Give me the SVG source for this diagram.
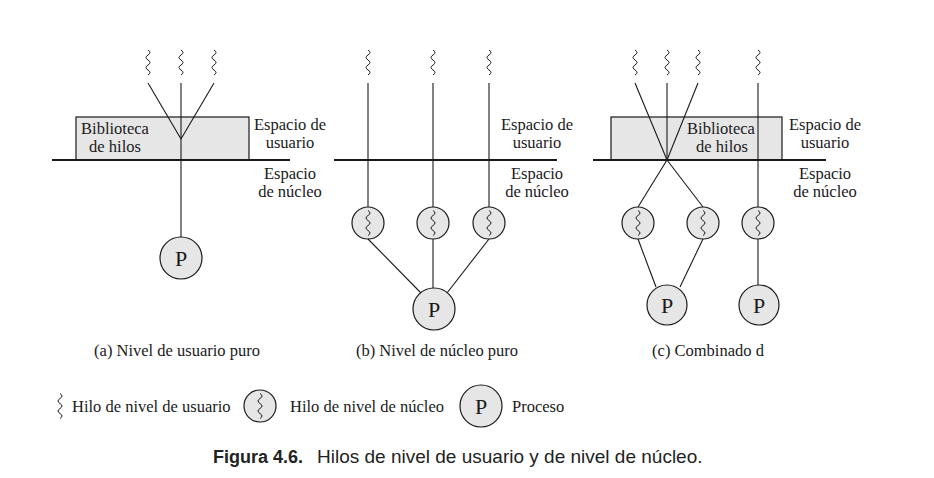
<svg xmlns="http://www.w3.org/2000/svg" width="934" height="478" viewBox="0 0 934 478">
<style>
.t{font-family:"Liberation Serif","Times New Roman",serif;font-size:16.5px;fill:#1a1a1a}
.c{text-anchor:middle}
.p{font-family:"Liberation Serif","Times New Roman",serif;font-size:22px;fill:#1a1a1a;text-anchor:middle}
.ln{stroke:#1a1a1a;stroke-width:1.1;fill:none}
.base{stroke:#1a1a1a;stroke-width:2.2;fill:none}
.nd{fill:#e6e6e6;stroke:#1a1a1a;stroke-width:1.2}
.sq{fill:none;stroke:#1a1a1a;stroke-width:1}
</style>
<defs>
<path id="sq" class="sq" d="M0,-12.5 q4,2.5 0,5 t0,5 t0,5 t0,5 t0,5"/>
</defs>
<rect width="934" height="478" fill="#fff"/>

<!-- Panel (a) -->
<g id="a-lib">
<rect class="nd" x="76" y="117" width="173" height="43"/>
<text class="t c" x="115" y="134">Biblioteca</text>
<text class="t c" x="115" y="152">de hilos</text>
</g>
<g id="a-ut1"><use href="#sq" x="148" y="62.5"/></g>
<g id="a-ut2"><use href="#sq" x="181" y="62.5"/></g>
<g id="a-ut3"><use href="#sq" x="214" y="62.5"/></g>
<g id="a-p"><circle class="nd" cx="181" cy="258" r="21"/><text class="p" x="181" y="265.5">P</text></g>
<g id="a-labels">
<text class="t c" x="290" y="130">Espacio de</text>
<text class="t c" x="290" y="148">usuario</text>
<text class="t c" x="290" y="179">Espacio</text>
<text class="t c" x="290" y="197">de núcleo</text>
<text class="t c" x="177" y="356">(a) Nivel de usuario puro</text>
</g>

<!-- Panel (b) -->
<g id="b-ut1"><use href="#sq" x="368" y="62.5"/></g>
<g id="b-ut2"><use href="#sq" x="433" y="62.5"/></g>
<g id="b-ut3"><use href="#sq" x="489" y="62.5"/></g>
<g id="b-k1"><circle class="nd" cx="368" cy="223" r="16"/><use href="#sq" x="368" y="223"/></g>
<g id="b-k2"><circle class="nd" cx="433" cy="223" r="16"/><use href="#sq" x="433" y="223"/></g>
<g id="b-k3"><circle class="nd" cx="489" cy="223" r="16"/><use href="#sq" x="489" y="223"/></g>
<g id="b-p"><circle class="nd" cx="434" cy="309" r="21"/><text class="p" x="434" y="316.5">P</text></g>
<g id="b-labels">
<text class="t c" x="537" y="130">Espacio de</text>
<text class="t c" x="537" y="148">usuario</text>
<text class="t c" x="537" y="179">Espacio</text>
<text class="t c" x="537" y="197">de núcleo</text>
<text class="t c" x="437" y="356">(b) Nivel de núcleo puro</text>
</g>

<!-- Panel (c) -->
<g id="c-lib">
<rect class="nd" x="611" y="117" width="171" height="43"/>
<text class="t c" x="721" y="134">Biblioteca</text>
<text class="t c" x="722" y="152">de hilos</text>
</g>
<g id="c-ut1"><use href="#sq" x="635" y="62.5"/></g>
<g id="c-ut2"><use href="#sq" x="667" y="62.5"/></g>
<g id="c-ut3"><use href="#sq" x="698" y="62.5"/></g>
<g id="c-ut4"><use href="#sq" x="758" y="62.5"/></g>
<g id="c-k1"><circle class="nd" cx="638" cy="223" r="16"/><use href="#sq" x="638" y="223"/></g>
<g id="c-k2"><circle class="nd" cx="703" cy="223" r="16"/><use href="#sq" x="703" y="223"/></g>
<g id="c-k3"><circle class="nd" cx="758" cy="223" r="16"/><use href="#sq" x="758" y="223"/></g>
<g id="c-p1"><circle class="nd" cx="667" cy="305" r="20"/><text class="p" x="667" y="312.5">P</text></g>
<g id="c-p2"><circle class="nd" cx="759" cy="305" r="20"/><text class="p" x="759" y="312.5">P</text></g>
<g id="c-labels">
<text class="t c" x="825" y="130">Espacio de</text>
<text class="t c" x="825" y="148">usuario</text>
<text class="t c" x="825" y="179">Espacio</text>
<text class="t c" x="825" y="197">de núcleo</text>
<text class="t c" x="708" y="356">(c) Combinado d</text>
</g>

<!-- Connectors -->
<g id="connectors">
<line class="base" x1="52" y1="160" x2="290" y2="160"/>
<line class="base" x1="334" y1="160" x2="557" y2="160"/>
<line class="base" x1="593" y1="160" x2="826" y2="160"/>
<!-- a -->
<line class="ln" x1="148" y1="83" x2="181" y2="139"/>
<line class="ln" x1="214" y1="83" x2="181" y2="139"/>
<line class="ln" x1="181" y1="83" x2="181" y2="237"/>
<!-- b -->
<line class="ln" x1="368" y1="83" x2="368" y2="207"/>
<line class="ln" x1="433" y1="83" x2="433" y2="207"/>
<line class="ln" x1="489" y1="83" x2="489" y2="207"/>
<line class="ln" x1="368" y1="239" x2="421" y2="293"/>
<line class="ln" x1="433" y1="239" x2="433" y2="288"/>
<line class="ln" x1="489" y1="239" x2="447" y2="293"/>
<!-- c -->
<line class="ln" x1="635" y1="83" x2="667" y2="160"/>
<line class="ln" x1="667" y1="83" x2="667" y2="160"/>
<line class="ln" x1="698" y1="83" x2="667" y2="160"/>
<line class="ln" x1="667" y1="160" x2="638" y2="207"/>
<line class="ln" x1="667" y1="160" x2="703" y2="207"/>
<line class="ln" x1="758" y1="83" x2="758" y2="207"/>
<line class="ln" x1="638" y1="239" x2="656" y2="287"/>
<line class="ln" x1="703" y1="239" x2="680" y2="287"/>
<line class="ln" x1="758" y1="239" x2="758" y2="285"/>
</g>

<!-- Legend -->
<g id="legend-ut"><use href="#sq" x="60" y="406"/><text class="t" x="72" y="412">Hilo de nivel de usuario</text></g>
<g id="legend-kt"><circle class="nd" cx="260" cy="406" r="16"/><use href="#sq" x="260" y="406"/><text class="t" x="290" y="412">Hilo de nivel de núcleo</text></g>
<g id="legend-p"><circle class="nd" cx="481" cy="406" r="21"/><text class="p" x="481" y="413.5">P</text><text class="t" x="512" y="412">Proceso</text></g>

<!-- Title -->
<g id="title">
<text x="213" y="463" style="font-family:'Liberation Sans',Arial,sans-serif;fill:#222"><tspan font-weight="bold" font-size="18">Figura 4.6.</tspan><tspan x="317" font-size="19">Hilos de nivel de usuario y de nivel de núcleo.</tspan></text>
</g>
</svg>
